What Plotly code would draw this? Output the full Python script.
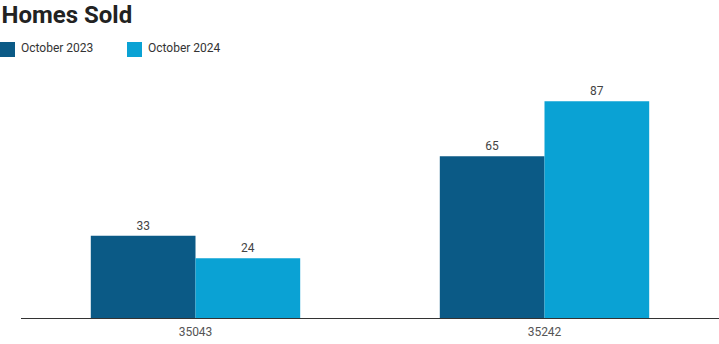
import plotly.graph_objects as go

# Homes sold by ZIP code, October 2023 vs October 2024
zip_codes = ["35043", "35242"]
sold_2023 = [33, 65]
sold_2024 = [24, 87]
series_names = ["October 2023", "October 2024"]
colors = ["#0b5a86", "#0aa2d4"]

fig = go.Figure()
for name, vals, col in zip(series_names, [sold_2023, sold_2024], colors):
    fig.add_trace(go.Bar(
        x=zip_codes, y=vals, name=name,
        marker=dict(color=col, line=dict(width=0)),
        text=[str(v) for v in vals], textposition="outside",
        textfont=dict(family="Roboto", size=12, color="#444"),
        cliponaxis=False, showlegend=False,
    ))

# Legend drawn by hand: square swatch + label, anchored to the plot's top-left corner
legend_x = [-21, 106]  # pixel offset of each swatch from the plot's left edge
for name, col, px in zip(series_names, colors, legend_x):
    fig.add_shape(type="rect", xref="paper", yref="paper",
                  xsizemode="pixel", ysizemode="pixel", xanchor=0, yanchor=1,
                  x0=px, x1=px + 15, y0=12, y1=27,
                  fillcolor=col, line=dict(width=0))
    fig.add_annotation(text=name, xref="paper", yref="paper",
                       x=0, xshift=px + 19, xanchor="left",
                       y=1, yshift=21, yanchor="middle", showarrow=False,
                       font=dict(family="Roboto", size=12, color="#333"))

fig.update_layout(
    width=719, height=344,
    margin=dict(l=21, r=0, t=69, b=26, autoexpand=False),
    paper_bgcolor="white", plot_bgcolor="white",
    barmode="group", bargap=0.4, bargroupgap=0,
    title=dict(text="<b>Homes Sold</b>", x=0.002, xref="container", xanchor="left",
               y=0.982, yref="container", yanchor="top",
               font=dict(family="Roboto", size=24, color="#222")),
    showlegend=False,
    xaxis=dict(type="category", showline=True, linecolor="#333", linewidth=1,
               ticks="outside", ticklen=3, tickcolor="rgba(0,0,0,0)",
               tickfont=dict(family="Roboto", size=12, color="#555"),
               showgrid=False),
    yaxis=dict(range=[0, 100], visible=False, showgrid=False),
)

fig.write_html("out.html")
